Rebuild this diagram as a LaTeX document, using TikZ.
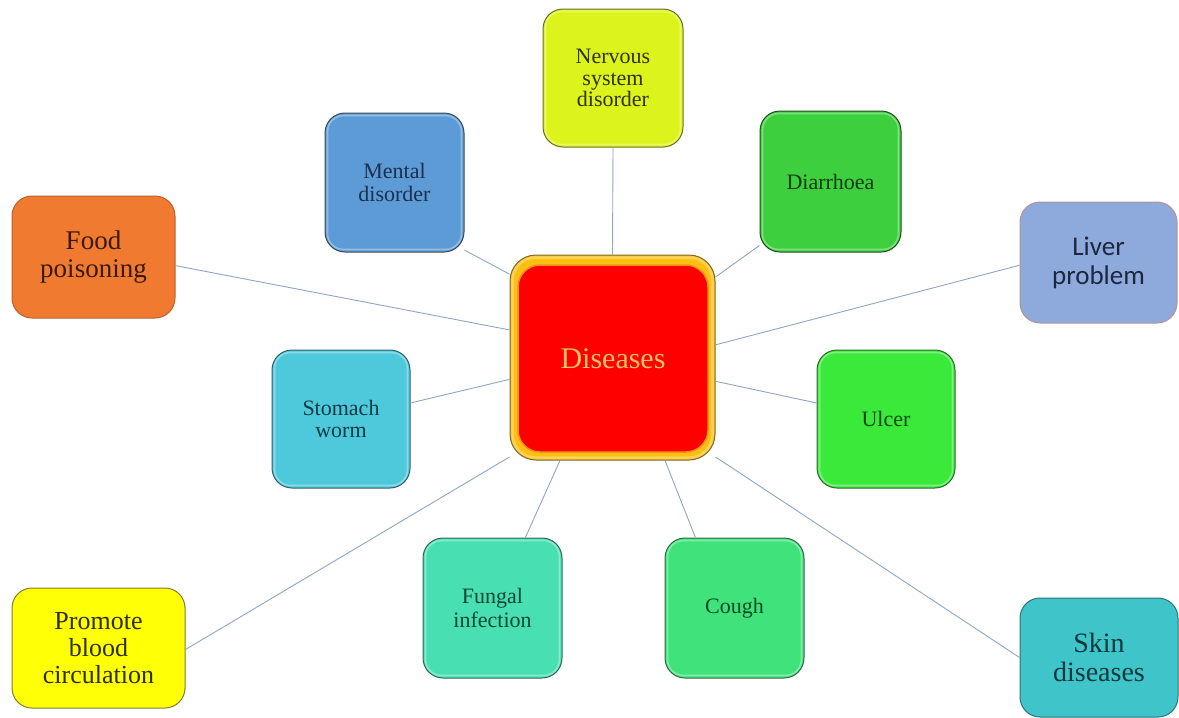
\documentclass[tikz,border=0pt]{standalone}
\usepackage{fontspec}
\setmainfont{Liberation Serif}
\newfontfamily\calfont{Carlito}
\begin{document}
\begin{tikzpicture}[x=1pt,y=-1pt,
  box/.style={draw, line width=1pt, rounded corners=20pt, align=center, inner sep=2pt, font=\fontsize{22}{22.5}\selectfont},
  link/.style={draw=linkc, line width=0.9pt},
  gloss/.style={draw=white, draw opacity=0.35, line width=1.6pt, rounded corners=16pt}
]
\definecolor{linkc}{HTML}{8FA6C6}
\definecolor{foodf}{HTML}{F07A30}\definecolor{foodd}{HTML}{B8622E}\definecolor{foodt}{HTML}{3A1A0C}
\definecolor{mentf}{HTML}{5C9BD6}\definecolor{mentd}{HTML}{3C4A58}\definecolor{mentt}{HTML}{1C3050}
\definecolor{nervf}{HTML}{DDF31C}\definecolor{nervd}{HTML}{6A7222}\definecolor{nervt}{HTML}{2E3308}
\definecolor{diarf}{HTML}{3DCF3D}\definecolor{diard}{HTML}{1F4F1F}\definecolor{diart}{HTML}{0C3A0C}
\definecolor{livef}{HTML}{8EAADC}\definecolor{lived}{HTML}{B49494}\definecolor{livet}{HTML}{1C2740}
\definecolor{stomf}{HTML}{4EC9DB}\definecolor{stomd}{HTML}{33606A}\definecolor{stomt}{HTML}{0E3C44}
\definecolor{ulcef}{HTML}{3BE93B}\definecolor{ulced}{HTML}{2F6A2F}\definecolor{ulcet}{HTML}{0C4A0C}
\definecolor{promf}{HTML}{FFFF05}\definecolor{promd}{HTML}{857F2A}\definecolor{promt}{HTML}{2E2E08}
\definecolor{fungf}{HTML}{48E0B2}\definecolor{fungd}{HTML}{2F6A58}\definecolor{fungt}{HTML}{0E4634}
\definecolor{cougf}{HTML}{40E27C}\definecolor{cougd}{HTML}{2F6A45}\definecolor{cougt}{HTML}{0C4A22}
\definecolor{skinf}{HTML}{3EC4C9}\definecolor{skind}{HTML}{2E7478}\definecolor{skint}{HTML}{0C3A3C}
\definecolor{cenout}{HTML}{FDBF12}\definecolor{cenoutd}{HTML}{7A6A2C}\definecolor{cenin}{HTML}{FF0000}
\definecolor{cenind}{HTML}{F2901E}\definecolor{cent}{HTML}{F7C060}

\useasboundingbox[fill=white] (0,0) rectangle (1179,718);

% center
\node[draw=cenoutd, fill=cenout, line width=1pt, rounded corners=26pt, minimum width=205pt, minimum height=205pt] (c) at (612.5,357.5) {};
\draw[draw=white, draw opacity=0.3, line width=2.5pt, rounded corners=23pt] ([shift={(3pt,3pt)}]c.south west) rectangle ([shift={(-3pt,-3pt)}]c.north east);
\node[draw=cenind, fill=cenin, line width=1.5pt, rounded corners=22pt, minimum width=190pt, minimum height=187pt, text=cent, font=\fontsize{30}{32}\selectfont] (ci) at (613,358.5) {Diseases};

% satellites
\node[box, draw=foodd, fill=foodf, text=foodt, minimum width=163pt, minimum height=122pt, font=\fontsize{27}{28}\selectfont] (food) at (93.5,257) {Food\\poisoning};
\node[box, draw=mentd, fill=mentf, text=mentt, minimum width=139pt, minimum height=139pt] (mental) at (394.5,182.5) {Mental\\disorder};
\node[box, draw=nervd, fill=nervf, text=nervt, minimum width=140pt, minimum height=138pt, font=\fontsize{22}{21.5}\selectfont] (nerv) at (613,78) {Nervous\\system\\disorder};
\node[box, draw=diard, fill=diarf, text=diart, minimum width=141pt, minimum height=141pt] (diar) at (830.5,181.5) {Diarrhoea};
\node[box, draw=lived, fill=livef, text=livet, minimum width=157pt, minimum height=121pt, font=\calfont\fontsize{27}{29}\selectfont] (liver) at (1098.5,262.5) {Liver\\problem};
\node[box, draw=stomd, fill=stomf, text=stomt, minimum width=138pt, minimum height=138pt] (stom) at (341,419) {Stomach\\worm};
\node[box, draw=ulced, fill=ulcef, text=ulcet, minimum width=138pt, minimum height=138pt] (ulcer) at (886,419) {Ulcer};
\node[box, draw=promd, fill=promf, text=promt, minimum width=173pt, minimum height=120pt, font=\fontsize{26}{27}\selectfont] (prom) at (98.5,648) {Promote\\blood\\circulation};
\node[box, draw=fungd, fill=fungf, text=fungt, minimum width=139pt, minimum height=140pt, font=\fontsize{22}{24}\selectfont] (fung) at (492.5,608) {Fungal\\infection};
\node[box, draw=cougd, fill=cougf, text=cougt, minimum width=139pt, minimum height=140pt] (cough) at (734.5,608) {Cough};
\node[box, draw=skind, fill=skinf, text=skint, minimum width=158pt, minimum height=119pt, font=\fontsize{28}{29}\selectfont] (skin) at (1099,657.5) {Skin\\diseases};

% gloss highlights
\foreach \n in {mental,nerv,diar,stom,ulcer,fung,cough}{
  \draw[gloss] ([shift={(3pt,3pt)}]\n.south west) rectangle ([shift={(-3pt,-3pt)}]\n.north east);
}

% connectors
\draw[link] (food.-6) -- (c.165);
\draw[link] (mental.-44) -- (c.141);
\draw[link] (nerv.south) -- (c.north);
\draw[link] (diar.222) -- (c.38);
\draw[link] (liver.182) -- (c.7);
\draw[link] (stom.13) -- (c.192);
\draw[link] (ulcer.167) -- (c.347);
\draw[link] (prom.-1) -- (c.224);
\draw[link] (fung.65) -- (c.243);
\draw[link] (cough.119) -- (c.297);
\draw[link] (skin.west) -- (c.316);
\end{tikzpicture}
\end{document}
